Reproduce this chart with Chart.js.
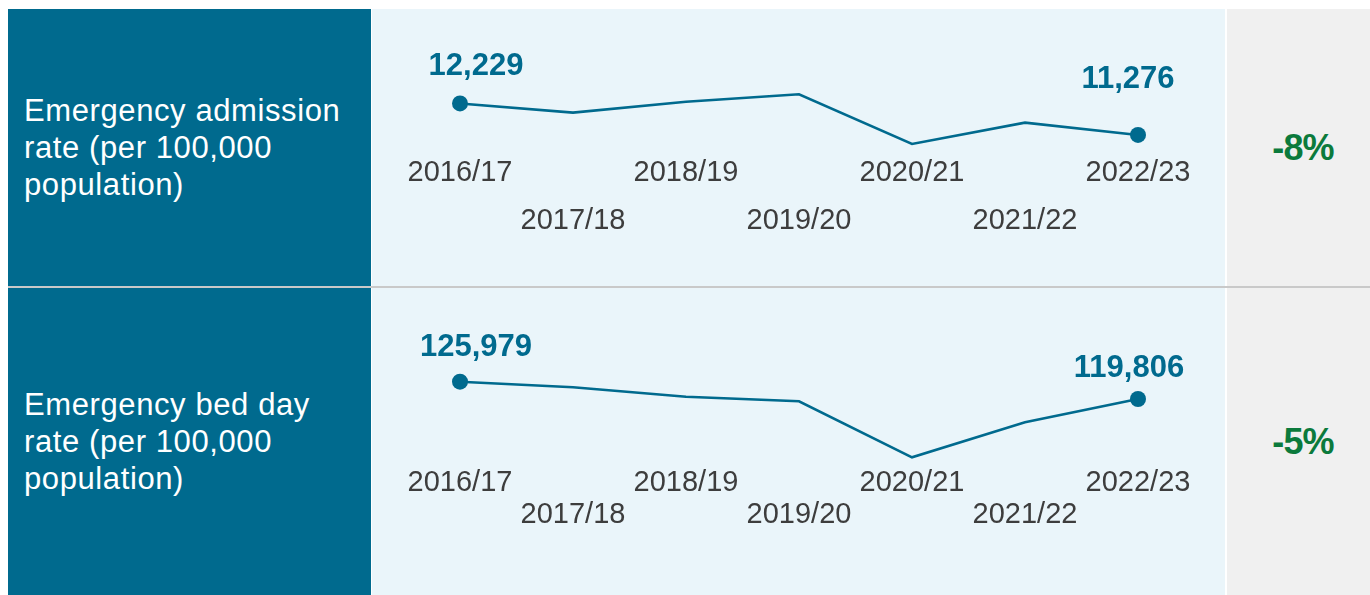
<!DOCTYPE html>
<html>
<head>
<meta charset="utf-8">
<script src="https://cdn.jsdelivr.net/npm/chart.js@4"></script>
<style>
  html, body { margin: 0; padding: 0; background: #ffffff; }
  body { width: 1370px; height: 595px; position: relative; overflow: hidden; font-family: "Liberation Sans", Arial, sans-serif; }
  .cell { position: absolute; box-sizing: border-box; }
  .label { background: #006a8e; left: 8px; width: 363px; color: #ffffff; font-size: 31px; line-height: 37px; letter-spacing: 0.6px; padding-left: 16px; display: flex; align-items: center; }
  .plot { background: #eaf5fa; left: 372px; width: 853px; }
  .pct { background: #f0f0f0; left: 1227px; width: 143px; color: #0b7a3c; font-weight: bold; font-size: 36px; display: flex; align-items: center; justify-content: center; padding-left: 9px; letter-spacing: -0.8px; }
  .sep { position: absolute; left: 8px; width: 1362px; top: 286px; height: 2px; background: #c9c9c9; }
  canvas { position: absolute; left: 0; top: 0; }
</style>
</head>
<body>
<div class="cell label" style="top:9px;height:277px;"><div id="t1"></div></div>
<div class="cell plot" style="top:9px;height:277px;"><canvas id="c1" width="853" height="277"></canvas></div>
<div class="cell pct" style="top:9px;height:277px;" id="p1"></div>
<div class="sep"></div>
<div class="cell label" style="top:288px;height:307px;"><div id="t2"></div></div>
<div class="cell plot" style="top:288px;height:307px;"><canvas id="c2" width="853" height="307"></canvas></div>
<div class="cell pct" style="top:288px;height:307px;" id="p2"></div>

<script>
// ---- Data ----
const years = ["2016/17", "2017/18", "2018/19", "2019/20", "2020/21", "2021/22", "2022/23"];
const admissionRate = [12229, 11951, 12283, 12507, 11004, 11648, 11276];
const bedDayRate = [125979, 123980, 120624, 118982, 98990, 111485, 119806];
const metricTitles = [["Emergency admission", "rate (per 100,000", "population)"], ["Emergency bed day", "rate (per 100,000", "population)"]];
const changeLabels = ["-8%", "-5%"];

document.getElementById('t1').innerHTML = metricTitles[0].join('<br>');
document.getElementById('t2').innerHTML = metricTitles[1].join('<br>');
document.getElementById('p1').textContent = changeLabels[0];
document.getElementById('p2').textContent = changeLabels[1];

const TEAL = '#006a8e';

const endLabelsPlugin = {
  id: 'endLabels',
  afterDatasetsDraw(chart, args, opts) {
    const ctx = chart.ctx;
    const meta = chart.getDatasetMeta(0);
    const data = chart.data.datasets[0].data;
    const last = data.length - 1;
    ctx.save();
    ctx.fillStyle = TEAL;
    ctx.font = 'bold 31px "Liberation Sans", Arial, sans-serif';
    ctx.textAlign = 'center';
    ctx.textBaseline = 'alphabetic';
    [[0, opts.first], [last, opts.last]].forEach(([i, off]) => {
      const p = meta.data[i];
      ctx.fillText(data[i].toLocaleString('en-GB'), p.x + off[0], p.y + off[1]);
    });
    ctx.restore();
  }
};

function makeChart(id, values, yMin, yMax, axisHeight, lineH, firstOff, lastOff) {
  return new Chart(document.getElementById(id), {
    type: 'line',
    data: {
      labels: years,
      datasets: [{
        data: values,
        borderColor: TEAL,
        backgroundColor: TEAL,
        borderWidth: 2.6,
        tension: 0,
        clip: false,
        pointRadius: values.map((v, i) => (i === 0 || i === values.length - 1) ? 8 : 0),
        pointBackgroundColor: TEAL,
        pointBorderWidth: 0,
        pointHoverRadius: 0
      }]
    },
    options: {
      responsive: false,
      devicePixelRatio: 1,
      animation: false,
      events: [],
      layout: { autoPadding: false, padding: { left: 88, right: 87, top: 0, bottom: 0 } },
      plugins: {
        legend: { display: false },
        tooltip: { enabled: false },
        endLabels: { first: firstOff, last: lastOff }
      },
      scales: {
        x: {
          offset: false,
          grid: { display: false, drawTicks: false },
          border: { display: false },
          afterFit: (s) => { s.height = axisHeight; },
          ticks: {
            autoSkip: false,
            maxRotation: 0,
            minRotation: 0,
            padding: 0,
            color: '#3d3d3d',
            font: { family: '"Liberation Sans", Arial, sans-serif', size: 29, lineHeight: lineH },
            callback: function (v, i) { const l = this.getLabelForValue(v); return i % 2 ? ['', l] : l; }
          }
        },
        y: { display: false, min: yMin, max: yMax }
      }
    },
    plugins: [endLabelsPlugin]
  });
}

makeChart('c1', admissionRate, 10850, 15090, 137, '48px', [16, -28], [-10, -47]);
makeChart('c2', bedDayRate, 95542, 159413, 128, '32px', [16, -26], [-9, -22]);
</script>
</body>
</html>
